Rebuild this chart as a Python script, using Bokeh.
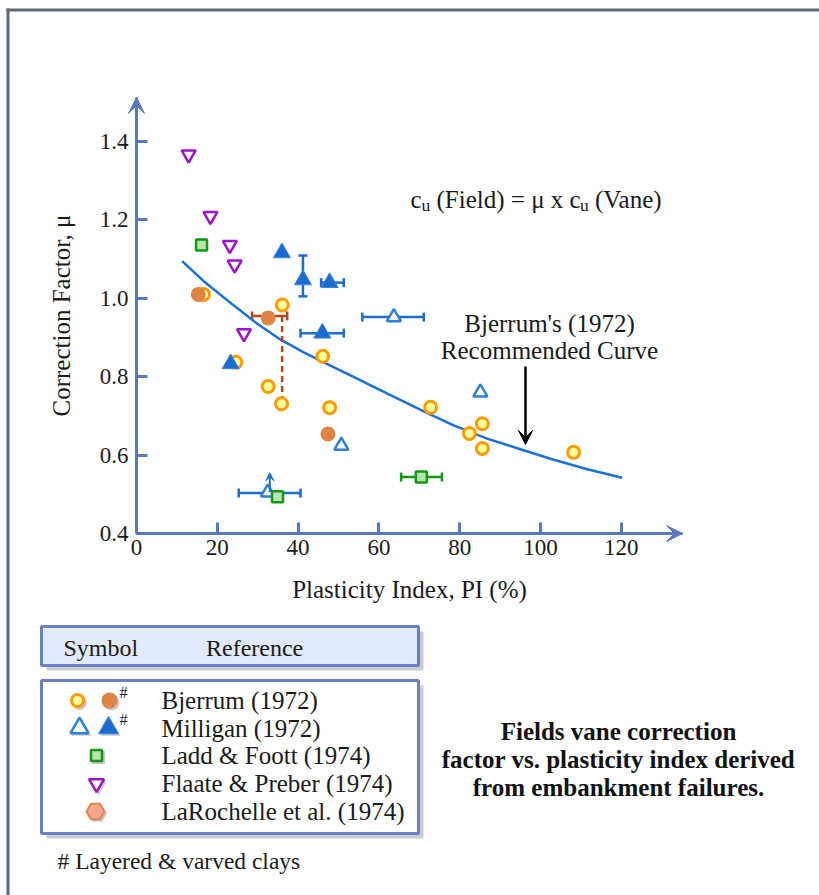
from bokeh.plotting import figure
from bokeh.models import (Range1d, ColumnDataSource, Whisker, TeeHead, Arrow, VeeHead,
                          Label, FixedTicker, PrintfTickFormatter)
from bokeh.embed import file_html
from bokeh.resources import INLINE
from bokeh.core.properties import value

# ---------------- data ----------------
x_ticks = [0, 20, 40, 60, 80, 100, 120]
y_ticks = [0.4, 0.6, 0.8, 1.0, 1.2, 1.4]

# Bjerrum's (1972) recommended curve
curve_pi = [11.3, 16.7, 24.9, 29.9, 35.6, 41.4, 48.0, 54.6, 62.1, 72.8, 78.5, 86.8, 95.0, 103.3, 111.6, 120.2]
curve_mu = [1.095, 1.043, 0.975, 0.935, 0.895, 0.862, 0.828, 0.795, 0.757, 0.703, 0.676, 0.642, 0.615, 0.588, 0.564, 0.542]

# Bjerrum (1972)
bj_open_pi = [16.6, 24.6, 36.1, 32.6, 35.9, 46.1, 47.8, 72.8, 82.4, 85.6, 85.6, 108.2]
bj_open_mu = [1.01, 0.837, 0.983, 0.775, 0.731, 0.852, 0.721, 0.722, 0.655, 0.68, 0.617, 0.607]
bj_lay_pi = [15.3, 32.6, 47.4]
bj_lay_mu = [1.01, 0.95, 0.654]
bj_err_mu = [0.955]
bj_err_lo = [28.6]
bj_err_hi = [37.3]
bj_range_pi = [36.05, 36.05]
bj_range_mu = [0.955, 0.744]

# Milligan (1972)
mil_open_pi = [63.7, 50.7, 85.1, 32.5]
mil_open_mu = [0.952, 0.624, 0.76, 0.505]
mil_open_err_mu = [0.952, 0.503]
mil_open_err_lo = [55.9, 25.3]
mil_open_err_hi = [71.1, 40.6]
mil_bound_pi = [33.0]
mil_bound_mu = [0.505, 0.555]
mil_lay_pi = [36.0, 41.2, 47.8, 46.0, 23.3]
mil_lay_mu = [1.116, 1.047, 1.04, 0.911, 0.833]
mil_lay_herr_mu = [1.04, 0.911]
mil_lay_herr_lo = [45.7, 40.6]
mil_lay_herr_hi = [51.3, 51.3]
mil_lay_verr_pi = [41.2]
mil_lay_verr_lo = [1.005]
mil_lay_verr_hi = [1.109]

# Ladd & Foott (1974)
ladd_pi = [16.1, 34.9, 70.5]
ladd_mu = [1.136, 0.494, 0.544]
ladd_err_mu = [0.544]
ladd_err_lo = [65.5]
ladd_err_hi = [75.6]

# Flaate & Preber (1974)
flaate_pi = [12.9, 18.3, 23.1, 24.3, 26.6]
flaate_mu = [1.367, 1.21, 1.136, 1.086, 0.911]

legend_refs = ["Bjerrum (1972)", "Milligan (1972)", "Ladd & Foott (1974)",
               "Flaate & Preber (1974)", "LaRochelle et al. (1974)"]
caption_lines = ["Fields vane correction", "factor vs. plasticity index derived",
                 "from embankment failures."]

# ---------------- styles ----------------
FONT = "Liberation Serif"
AX = "#5a78bc"
TXT = "#1a1a1a"
CURVE = "#1a6fd8"
BJ_LINE, BJ_FILL, BJ_LAY = "#ff9a00", "#ffff9c", "#de8447"
MIL_OPEN, MIL_LAY = "#2e80d8", "#1c6cd0"
LADD_LINE, LADD_FILL = "#139913", "#b6e4b0"
FLAATE = "#9a15c8"
BROWN = "#b04a1a"
HEX_FILL, HEX_LINE = "#f6a98a", "#e08550"
BOX_LINE, HEAD_FILL, SHADOW = "#6a80c2", "#e0eafb", "#cccccc"
PAGE = "#5e6971"


# page pixel -> data helpers (used only for placing annotations / layout boxes)
def X(px):
    return (px - 136) / 4.04


def Y(py):
    return 0.4 + (533 - py) / 392.0


p = figure(width=819, height=895, x_range=Range1d(X(0), X(819)), y_range=Range1d(Y(895), Y(0)),
           output_backend="svg", toolbar_location=None, min_border=0)
p.xgrid.visible = False
p.ygrid.visible = False
p.outline_line_color = None
p.background_fill_color = "white"
p.border_fill_color = "white"

xa = p.xaxis[0]
ya = p.yaxis[0]
xa.fixed_location = 0.4
ya.fixed_location = 0
xa.bounds = (0, X(682))
ya.bounds = (0.4, Y(97))
for ax in (xa, ya):
    ax.axis_line_color = AX
    ax.axis_line_width = 3
    ax.major_tick_line_color = AX
    ax.major_tick_line_width = 3
    ax.major_tick_in = 11
    ax.major_tick_out = 0
    ax.minor_tick_line_color = None
    ax.major_label_text_font = FONT
    ax.major_label_text_font_size = "23px"
    ax.major_label_text_color = TXT
    ax.axis_label_text_font = FONT
    ax.axis_label_text_font_size = "25px"
    ax.axis_label_text_font_style = "normal"
    ax.axis_label_text_color = TXT
xa.ticker = FixedTicker(ticks=x_ticks)
ya.ticker = FixedTicker(ticks=y_ticks)
ya.formatter = PrintfTickFormatter(format="%.1f")
xa.axis_label = "Plasticity Index, PI (%)"
ya.axis_label = "Correction Factor, μ"
xa.major_label_standoff = 6
ya.major_label_standoff = 8
xa.axis_label_standoff = 18
ya.axis_label_standoff = 22

# axis arrowheads
p.add_layout(Arrow(end=VeeHead(size=16, fill_color=AX, line_color=AX, line_width=1),
                   x_start=0, y_start=Y(130), x_end=0, y_end=Y(97), line_color=AX, line_width=3))
p.add_layout(Arrow(end=VeeHead(size=16, fill_color=AX, line_color=AX, line_width=1),
                   x_start=X(650), y_start=0.4, x_end=X(682), y_end=0.4, line_color=AX, line_width=3))

# page frame (gray)
p.quad(left=[X(6)], right=[X(9)], top=[Y(8)], bottom=[Y(900)], fill_color=PAGE, line_color=None)
p.quad(left=[X(6)], right=[X(830)], top=[Y(8)], bottom=[Y(11)], fill_color=PAGE, line_color=None)


def whisker(base, lo, hi, color, dim):
    src = ColumnDataSource(dict(base=base, lower=lo, upper=hi))
    p.add_layout(Whisker(source=src, base="base", lower="lower", upper="upper", dimension=dim,
                         line_color=color, line_width=2.5,
                         upper_head=TeeHead(size=9, line_color=color, line_width=2.5),
                         lower_head=TeeHead(size=9, line_color=color, line_width=2.5)))


# curve
p.line(curve_pi, curve_mu, line_color=CURVE, line_width=2.5)

# error bars / ranges
whisker(bj_err_mu, bj_err_lo, bj_err_hi, BROWN, "width")
p.line(bj_range_pi, bj_range_mu, line_color=BROWN, line_width=2.5, line_dash="6 4")
whisker(mil_open_err_mu, mil_open_err_lo, mil_open_err_hi, MIL_LAY, "width")
whisker(mil_lay_herr_mu, mil_lay_herr_lo, mil_lay_herr_hi, MIL_LAY, "width")
whisker(mil_lay_verr_pi, mil_lay_verr_lo, mil_lay_verr_hi, MIL_LAY, "height")
whisker(ladd_err_mu, ladd_err_lo, ladd_err_hi, LADD_LINE, "width")
p.add_layout(Arrow(end=VeeHead(size=8, fill_color=MIL_LAY, line_color=MIL_LAY, line_width=1),
                   x_start=mil_bound_pi[0], y_start=mil_bound_mu[0],
                   x_end=mil_bound_pi[0], y_end=mil_bound_mu[1],
                   line_color=MIL_LAY, line_width=2))

# markers
p.scatter(bj_open_pi, bj_open_mu, marker="circle", size=12, fill_color=BJ_FILL,
          line_color=BJ_LINE, line_width=3)
p.scatter(mil_open_pi, mil_open_mu, marker="triangle", size=14, fill_color="white",
          line_color=MIL_OPEN, line_width=2.5)
p.scatter(bj_lay_pi, bj_lay_mu, marker="circle", size=15, fill_color=BJ_LAY, line_color=None)
p.scatter(mil_lay_pi, mil_lay_mu, marker="triangle", size=17, fill_color=MIL_LAY,
          line_color="#3a86dc", line_width=1)
p.scatter(flaate_pi, flaate_mu, marker="inverted_triangle", size=14, fill_color="white",
          line_color=FLAATE, line_width=2.5)
p.scatter(ladd_pi, ladd_mu, marker="square", size=11, fill_color=LADD_FILL,
          line_color=LADD_LINE, line_width=2.5)


def lab(x, y, text, size="25px", align="left", baseline="alphabetic", style="normal"):
    p.add_layout(Label(x=x, y=y, text=text, text_font=FONT, text_font_size=size,
                       text_align=align, text_baseline=baseline, text_color=TXT,
                       text_font_style=style))


# equation
lab(X(410), Y(199), "c")
lab(X(421), Y(204), "u", size="17.5px")
lab(X(436), Y(199), "(Field) = μ x c")
lab(X(579.5), Y(204), "u", size="17.5px")
lab(X(594.5), Y(199), "(Vane)")

# curve annotation
lab(X(549), Y(323), "Bjerrum's (1972)", align="center", baseline="middle")
lab(X(549), Y(350), "Recommended Curve", align="center", baseline="middle")
p.add_layout(Arrow(end=VeeHead(size=14, fill_color="black", line_color="black", line_width=1),
                   x_start=X(525), y_start=Y(366), x_end=X(525), y_end=Y(444),
                   line_color="black", line_width=2.5))

# ---------------- legend ----------------
p.quad(left=[X(46)], right=[X(423)], top=[Y(631)], bottom=[Y(670)], fill_color=SHADOW, line_color=None)
p.quad(left=[X(41)], right=[X(418)], top=[Y(626)], bottom=[Y(665)], fill_color=HEAD_FILL,
       line_color=BOX_LINE, line_width=3)
p.text(x=[X(63), X(205.5)], y=[Y(647)] * 2, text=["Symbol", "Reference"], text_font=value(FONT),
       text_font_size=value("24px"), text_baseline="middle", text_align="left", text_color=TXT)

p.quad(left=[X(46)], right=[X(423)], top=[Y(685)], bottom=[Y(838)], fill_color=SHADOW, line_color=None)
p.quad(left=[X(41)], right=[X(418)], top=[Y(680)], bottom=[Y(833)], fill_color="white",
       line_color=BOX_LINE, line_width=3)

row_px = [700, 727.5, 755, 783, 811]
row_y = [Y(v) for v in row_px]
p.text(x=[X(161)] * 5, y=row_y, text=legend_refs, text_font=value(FONT),
       text_font_size=value("25px"), text_baseline="middle", text_align="left", text_color=TXT)

# legend symbols (light drop shadows first)
sym_px = [77, 109, 79, 108, 96, 96, 95]
sym_row = [0, 0, 1, 1, 2, 3, 4]
sym_marker = ["circle", "circle", "triangle", "triangle", "square", "inverted_triangle", "hex"]
sym_size = [15, 16, 20, 20, 13, 17, 19]
p.scatter([X(v + 2) for v in sym_px], [Y(row_px[r] + 2) for r in sym_row], marker=sym_marker,
          size=sym_size, fill_color="#c8c8c8", line_color=None)
p.scatter([X(77)], [row_y[0]], marker="circle", size=12, fill_color=BJ_FILL, line_color=BJ_LINE, line_width=3)
p.scatter([X(109)], [row_y[0]], marker="circle", size=16, fill_color=BJ_LAY, line_color=None)
p.scatter([X(79)], [row_y[1]], marker="triangle", size=18, fill_color="white", line_color=MIL_OPEN, line_width=2.5)
p.scatter([X(108)], [row_y[1]], marker="triangle", size=20, fill_color=MIL_LAY, line_color="#3a86dc", line_width=1)
p.scatter([X(96)], [row_y[2]], marker="square", size=11, fill_color=LADD_FILL, line_color=LADD_LINE, line_width=2.5)
p.scatter([X(96)], [row_y[3]], marker="inverted_triangle", size=15, fill_color="white", line_color=FLAATE, line_width=2.5)
p.scatter([X(95)], [row_y[4]], marker="hex", size=18, fill_color=HEX_FILL, line_color=HEX_LINE, line_width=2)
p.text(x=[X(119), X(119)], y=[Y(692), Y(719)], text=["#", "#"], text_font=value(FONT),
       text_font_size=value("16px"), text_baseline="middle", text_align="left", text_color=TXT)

p.text(x=[X(57)], y=[Y(860)], text=["# Layered & varved clays"], text_font=value(FONT),
       text_font_size=value("23.5px"), text_baseline="middle", text_align="left", text_color=TXT)

# caption
p.text(x=[X(618)] * 3, y=[Y(731), Y(759), Y(787)], text=caption_lines, text_font=value(FONT),
       text_font_size=value("25px"), text_font_style="bold", text_baseline="middle",
       text_align="center", text_color="#111111")

open("out.html", "w").write(file_html(p, INLINE))
